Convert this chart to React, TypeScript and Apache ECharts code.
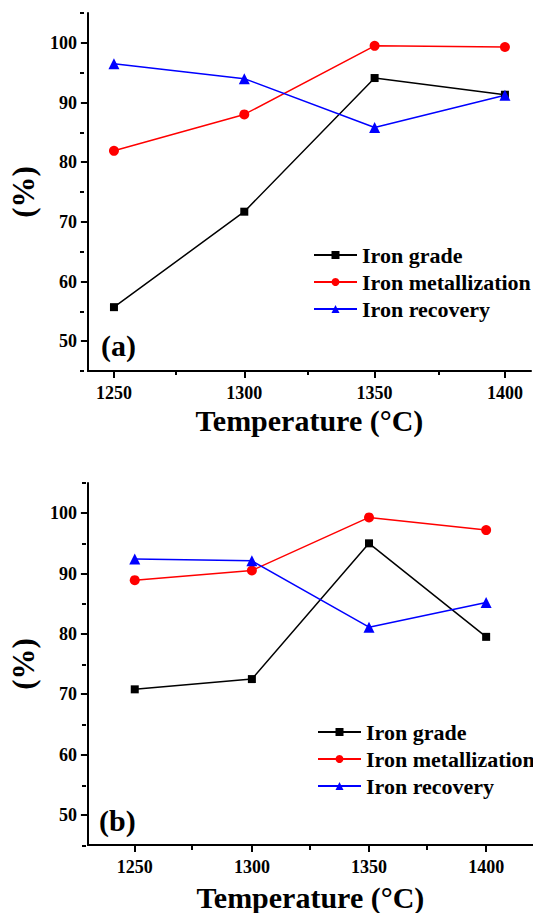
import React, { useEffect, useRef } from "react";
import * as echarts from "echarts";

const temps = [1250, 1300, 1350, 1400];
const seriesNames = ["Iron grade", "Iron metallization", "Iron recovery"];

// Panel (a)
const gradeA = [55.7, 71.7, 94.1, 91.3];
const metalA = [81.9, 88.0, 99.5, 99.3];
const recovA = [96.5, 94.0, 85.8, 91.2];

// Panel (b)
const gradeB = [70.8, 72.5, 95.0, 79.5];
const metalB = [88.9, 90.5, 99.3, 97.2];
const recovB = [92.4, 92.1, 81.1, 85.2];

const xMajor = [1250, 1300, 1350, 1400];
const xMinor = [1275, 1325, 1375];
const yMajor = [50, 60, 70, 80, 90, 100];
const yMinor = [45, 55, 65, 75, 85, 95, 105];

const FONT = "Liberation Serif";
const colors = ["#000000", "#ff0000", "#0000ff"];
const symbols = ["rect", "circle", "triangle"];
const symbolSizes = [8, 10, 11];

function pairs(vals: number[]) {
  return temps.map((t, i) => [t, vals[i]]);
}

export default function App() {
  const ref = useRef<HTMLDivElement>(null);
  useEffect(() => {
    if (!ref.current) return;
    const chart = echarts.init(ref.current, null, { renderer: "svg" });

    const axisLine = { show: true, onZero: false, lineStyle: { color: "#000", width: 2 } };
    const labelStyle = {
      color: "#000",
      fontFamily: FONT,
      fontWeight: "bold" as const,
      fontSize: 18,
      formatter: (v: number) => String(v),
    };

    const gridRects = [
      { left: 84, top: 13, width: 447, height: 358 },
      { left: 86, top: 483, width: 453, height: 363 },
    ];
    const panels = [
      { xmin: 1240, xmax: 1410, data: [gradeA, metalA, recovA], gap: 34, ygap: 43 },
      { xmin: 1230, xmax: 1420, data: [gradeB, metalB, recovB], gap: 37, ygap: 45 },
    ];

    const xAxes: any[] = [];
    const yAxes: any[] = [];
    const series: any[] = [];
    // main axes (grid 0, 1)
    panels.forEach((p, gi) => {
      xAxes.push({
        type: "value",
        gridIndex: gi,
        position: "bottom",
        min: p.xmin,
        max: p.xmax,
        axisLine,
        splitLine: { show: false },
        axisTick: { show: true, customValues: xMajor, length: 7, lineStyle: { width: 2, color: "#000" } },
        axisLabel: { ...labelStyle, customValues: xMajor, margin: 13 },
        name: "Temperature (°C)",
        nameLocation: "middle",
        nameGap: p.gap,
        nameTextStyle: { color: "#000", fontFamily: FONT, fontWeight: "bold", fontSize: 30 },
      });
      yAxes.push({
        type: "value",
        gridIndex: gi,
        position: "left",
        min: 45,
        max: 105,
        axisLine,
        splitLine: { show: false },
        axisTick: { show: true, customValues: yMajor, length: 7, lineStyle: { width: 2, color: "#000" } },
        axisLabel: { ...labelStyle, customValues: yMajor, margin: 11 },
        name: "(%)",
        nameLocation: "middle",
        nameGap: p.ygap,
        nameTextStyle: { color: "#000", fontFamily: FONT, fontWeight: "bold", fontSize: 31 },
      });
      p.data.forEach((vals, si) => {
        series.push({
          type: "line",
          name: seriesNames[si],
          xAxisIndex: gi,
          yAxisIndex: gi,
          data: pairs(vals),
          symbol: symbols[si],
          symbolSize: symbolSizes[si],
          color: colors[si],
          itemStyle: { color: colors[si] },
          lineStyle: { color: colors[si], width: 1.5 },
          z: 3,
        });
      });
    });
    // minor tick axes (grid 2, 3) overlaying the main grids
    panels.forEach((p, gi) => {
      xAxes.push({
        type: "value",
        gridIndex: gi + 2,
        position: "bottom",
        min: p.xmin,
        max: p.xmax,
        axisLine: { show: false, onZero: false },
        splitLine: { show: false },
        axisTick: { show: true, customValues: xMinor, length: 4, lineStyle: { width: 2, color: "#000" } },
        axisLabel: { show: false },
      });
      yAxes.push({
        type: "value",
        gridIndex: gi + 2,
        position: "left",
        min: 45,
        max: 105,
        axisLine: { show: false, onZero: false },
        splitLine: { show: false },
        axisTick: { show: true, customValues: yMinor, length: 4, lineStyle: { width: 2, color: "#000" } },
        axisLabel: { show: false },
      });
    });

    const legendBase = {
      orient: "vertical" as const,
      itemWidth: 43,
      itemHeight: 10,
      itemGap: 5,
      padding: 0,
      textStyle: { color: "#000", fontFamily: FONT, fontWeight: "bold" as const, fontSize: 22 },
      data: seriesNames,
    };

    chart.setOption({
      animation: false,
      backgroundColor: "#ffffff",
      grid: [...gridRects, ...gridRects],
      xAxis: xAxes,
      yAxis: yAxes,
      legend: [
        { ...legendBase, left: 313, top: 244 },
        { ...legendBase, left: 317, top: 721 },
      ],
      graphic: [
        {
          type: "text",
          left: 101,
          top: 330,
          style: { text: "(a)", fill: "#000", font: `bold 30px ${FONT}` },
        },
        {
          type: "text",
          left: 99,
          top: 805,
          style: { text: "(b)", fill: "#000", font: `bold 30px ${FONT}` },
        },
      ],
      series,
    });
    return () => chart.dispose();
  }, []);

  return (
    <div
      ref={ref}
      style={{ position: "fixed", left: 0, top: 0, width: 533, height: 913, background: "#fff" }}
    />
  );
}
